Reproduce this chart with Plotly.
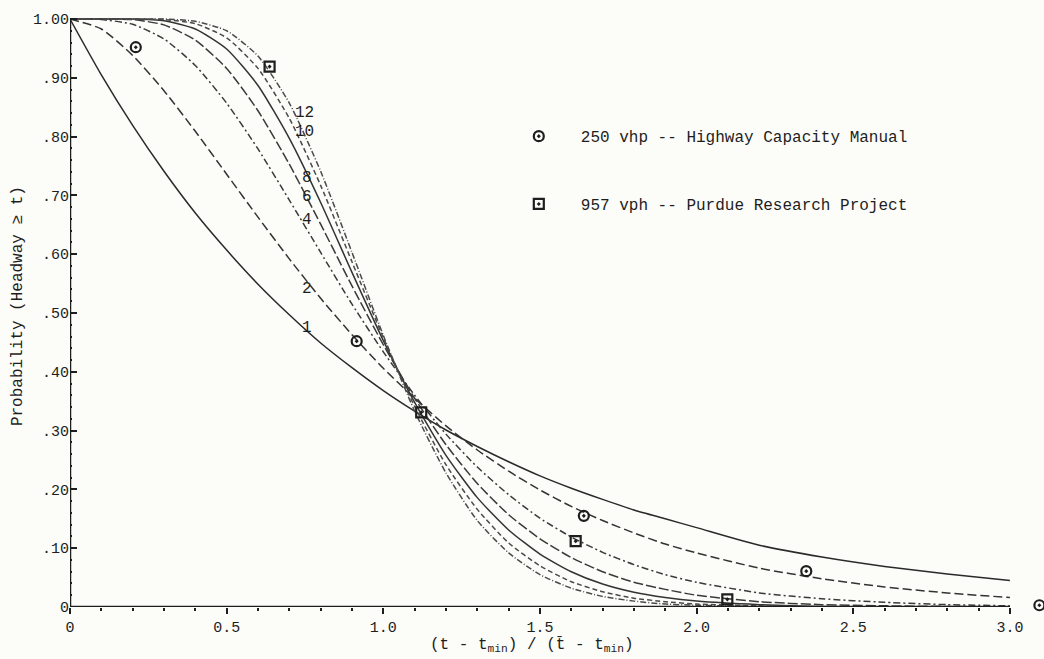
import plotly.graph_objects as go

# Normalized headway (t - t_min) / (t_bar - t_min)
x_grid = [0.0, 0.1, 0.2, 0.3, 0.4, 0.5, 0.6, 0.7, 0.8, 0.9, 1.0,
          1.1, 1.2, 1.3, 1.4, 1.5, 1.6, 1.7, 1.8, 1.9, 2.0,
          2.2, 2.4, 2.6, 2.8, 3.0]

# Probability (headway >= t) for each Erlang parameter k
p_k1 = [1.000, .905, .819, .741, .670, .607, .549, .497, .449, .407, .368,
        .333, .301, .273, .247, .223, .202, .183, .165, .150, .135,
        .105, .085, .069, .056, .045]
p_k2 = [1.000, .983, .938, .878, .809, .736, .663, .592, .525, .463, .406,
        .355, .308, .267, .231, .199, .171, .147, .126, .107, .092,
        .066, .048, .034, .024, .016]
p_k4 = [1.000, .999, .991, .966, .921, .857, .779, .692, .603, .515, .434,
        .360, .294, .238, .191, .151, .119, .093, .072, .055, .042,
        .024, .014, .008, .004, .002]
p_k6 = [1.000, 1.000, .999, .990, .964, .916, .844, .753, .651, .546, .446,
        .355, .276, .210, .157, .116, .084, .060, .042, .030, .020,
        .009, .004, .002, .001, .000]
p_k8 = [1.000, 1.000, 1.000, .997, .983, .949, .887, .797, .688, .569, .453,
        .348, .258, .186, .131, .090, .060, .039, .025, .016, .010,
        .004, .001, .000, .000, .000]
p_k10 = [1.000, 1.000, 1.000, .999, .992, .968, .916, .831, .717, .587, .458,
         .341, .242, .166, .109, .070, .043, .026, .015, .009, .005,
         .002, .000, .000, .000, .000]
p_k12 = [1.000, 1.000, 1.000, 1.000, .996, .980, .937, .857, .741, .603, .462,
         .333, .228, .147, .092, .055, .032, .018, .010, .005, .003,
         .001, .000, .000, .000, .000]

curve_k = ["1", "2", "4", "6", "8", "10", "12"]
curve_p = [p_k1, p_k2, p_k4, p_k6, p_k8, p_k10, p_k12]

# Observed headway distributions
hcm_x = [0.21, 0.915, 1.64, 2.35, 3.094]
hcm_y = [0.952, 0.452, 0.155, 0.061, 0.003]
purdue_x = [0.637, 1.121, 1.614, 2.098]
purdue_y = [0.919, 0.331, 0.112, 0.013]

x_ticks = [0, 0.5, 1.0, 1.5, 2.0, 2.5, 3.0]
x_tick_text = ["0", "0.5", "1.0", "1.5", "2.0", "2.5", "3.0"]
y_ticks = [0, 0.1, 0.2, 0.3, 0.4, 0.5, 0.6, 0.7, 0.8, 0.9, 1.0]
y_tick_text = ["0", ".10", ".20", ".30", ".40", ".50", ".60", ".70", ".80", ".90", "1.00"]

MONO = "Liberation Mono, Courier New, monospace"
INK = "#1e1e1e"
PAPER = "#fcfcf8"

line_styles = {
    "1": dict(color="#2a2a2a", width=1.5, dash="solid"),
    "2": dict(color="#333333", width=1.5, dash="9px,4px"),
    "4": dict(color="#3a3a3a", width=1.5, dash="7px,3px,2px,3px"),
    "6": dict(color="#3a3a3a", width=1.5, dash="10px,3px"),
    "8": dict(color="#333333", width=1.5, dash="solid"),
    "10": dict(color="#4a4a4a", width=1.5, dash="5px,3px"),
    "12": dict(color="#4a4a4a", width=1.5, dash="6px,2px,1px,2px"),
}

fig = go.Figure()

for k, p in zip(curve_k, curve_p):
    fig.add_trace(go.Scatter(
        x=x_grid, y=p, mode="lines", name="k = " + k,
        line=dict(shape="spline", smoothing=0.6, **line_styles[k]),
        showlegend=False, hoverinfo="skip",
    ))

fig.add_trace(go.Scatter(
    x=hcm_x, y=hcm_y, mode="markers",
    name="250 vhp -- Highway Capacity Manual",
    legendgroup="hcm",
    marker=dict(symbol="circle-open-dot", size=10, color=INK,
                line=dict(width=2.2, color=INK)),
    cliponaxis=False,
))
fig.add_trace(go.Scatter(
    x=purdue_x, y=purdue_y, mode="markers",
    name="957 vph -- Purdue Research Project",
    legendgroup="purdue",
    marker=dict(symbol="square-open-dot", size=10, color=INK,
                line=dict(width=2.2, color=INK)),
    cliponaxis=False,
))

# Curve labels (Erlang k)
label_pos = [("12", 0.748, 0.840), ("10", 0.748, 0.808), ("8", 0.758, 0.729),
             ("6", 0.758, 0.697), ("4", 0.758, 0.658), ("2", 0.758, 0.540),
             ("1", 0.755, 0.474)]
for txt, lx, ly in label_pos:
    fig.add_annotation(x=lx, y=ly, text=txt, showarrow=False,
                       font=dict(family=MONO, size=16, color=INK),
                       xanchor="center", yanchor="middle")

# Axis titles
fig.add_annotation(xref="paper", yref="paper", x=-0.0536, y=0.504,
                   text="Probability (Headway \u2265 t)", textangle=-90,
                   showarrow=False, font=dict(family=MONO, size=16, color=INK),
                   xanchor="center", yanchor="middle")
fig.add_annotation(xref="paper", yref="paper", x=0.476, y=-0.064,
                   text="(t - t<sub>min</sub>) / (t\u0304 - t<sub>min</sub>)",
                   showarrow=False, font=dict(family=MONO, size=16, color=INK),
                   xanchor="center", yanchor="middle")

# Axis lines
fig.add_shape(type="line", x0=0, x1=3.0, y0=0, y1=0, xref="x", yref="y",
              line=dict(color=INK, width=2.5), layer="above")
fig.add_shape(type="line", x0=0, x1=0, y0=0, y1=1.0, xref="x", yref="y",
              line=dict(color=INK, width=2.5), layer="above")

fig.update_layout(
    width=1044, height=659,
    margin=dict(l=70, r=4, t=10, b=52),
    paper_bgcolor=PAPER, plot_bgcolor=PAPER,
    font=dict(family=MONO, size=15, color=INK),
    showlegend=True,
    legend=dict(x=0.44, y=0.817, xanchor="left", yanchor="top",
                bgcolor="rgba(0,0,0,0)", font=dict(family=MONO, size=16, color=INK),
                itemwidth=74, tracegroupgap=44, traceorder="grouped",
                itemclick=False, itemdoubleclick=False),
    xaxis=dict(range=[0, 3.096], showgrid=False, zeroline=False, showline=False,
               tickmode="array", tickvals=x_ticks, ticktext=x_tick_text,
               ticks="outside", ticklen=6, tickwidth=2, tickcolor=INK,
               minor=dict(dtick=0.1, tick0=0, ticks="outside", ticklen=3,
                          tickwidth=1.5, tickcolor=INK),
               tickfont=dict(family=MONO, size=15, color=INK)),
    yaxis=dict(range=[0, 1.0153], showgrid=False, zeroline=False, showline=False,
               tickmode="array", tickvals=y_ticks, ticktext=y_tick_text,
               ticks="inside", ticklen=7, tickwidth=2, tickcolor=INK,
               minor=dict(dtick=0.02, tick0=0, ticks="inside", ticklen=2,
                          tickwidth=2, tickcolor=INK),
               tickfont=dict(family=MONO, size=15, color=INK)),
)

fig.write_html("out.html")
